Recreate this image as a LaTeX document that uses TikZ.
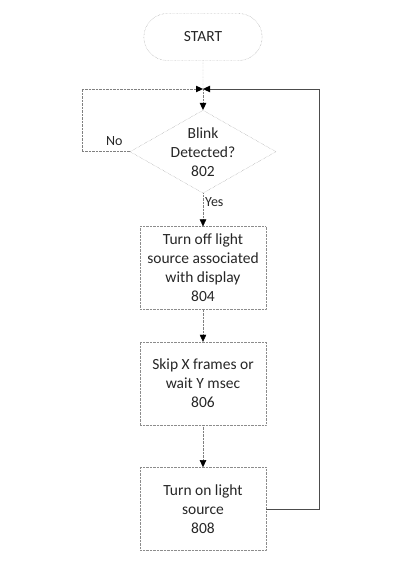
\documentclass[tikz,border=0pt]{standalone}
\usepackage{fontspec}
\setmainfont{Carlito}
\usetikzlibrary{shapes.geometric,shapes.misc,arrows.meta,positioning}

\begin{document}
\begin{tikzpicture}[
  x=1pt,y=1pt,
  font=\fontsize{15.5}{19}\selectfont,text=black!85,
  term/.style={draw=black!45,densely dotted,rounded rectangle,minimum width=125pt,minimum height=47pt},
  dec/.style={draw=black!45,densely dotted,diamond,minimum width=146pt,minimum height=83pt,inner sep=-12pt,align=center},
  blk/.style={draw=black!45,densely dotted,minimum width=126pt,minimum height=83pt,align=center},
  lbl/.style={font=\fontsize{14}{17}\selectfont,inner sep=2pt},
  dots/.style={draw=black!50,densely dotted},
  arr/.style={dots,-{Triangle[length=7pt,width=6.5pt,color=black]}},
  back/.style={draw=black!70,-{Triangle[length=7pt,width=6.5pt,color=black]}}
]
\useasboundingbox (0,0) rectangle (400,568);

\node[term] (start) at (203,531) {START};
\coordinate (join) at (203,479);
\node[dec,below=21pt of join] (blink) {Blink\\Detected?\\802};
\node[blk,below=33pt of blink] (off) {Turn off light\\source associated\\with display\\804};
\node[blk,below=32pt of off] (wait) {Skip X frames or\\wait Y msec\\806};
\node[blk,below=42pt of wait] (on) {Turn on light\\source\\808};

\draw[dots] (start) -- (join);
\draw[arr] (join) -- (blink);
\draw[arr] (blink) -- node[lbl,right,pos=0.27]{Yes} (off);
\draw[arr] (off) -- (wait);
\draw[arr] (wait) -- (on);
\draw[arr] (blink.west) node[lbl,above left=4pt and 5pt]{No} -- ++(-48,0) |- (join);
\draw[back] (on.east) -- ++(53,0) |- (join);
\end{tikzpicture}
\end{document}
